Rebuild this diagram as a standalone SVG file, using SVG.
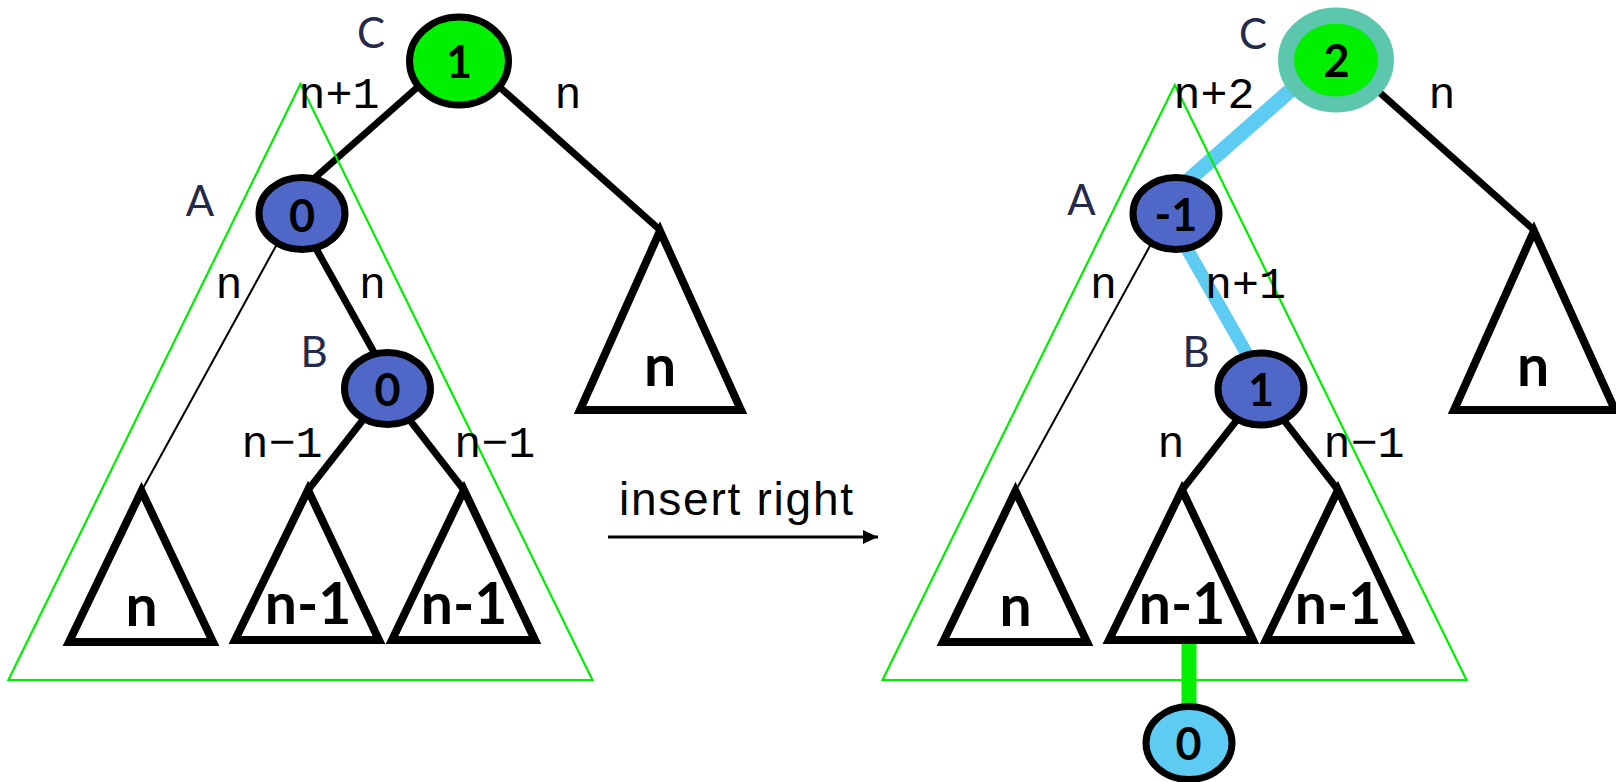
<svg xmlns="http://www.w3.org/2000/svg" width="1616" height="782" viewBox="0 0 1616 782">
<defs>
<style>
.edge{stroke:#000;stroke-width:7;fill:none}
.thin{stroke:#000;stroke-width:2;fill:none}
.hl{stroke:#5ECCF2;stroke-width:15;fill:none}
.hl2{stroke:#5ECCF2;stroke-width:13;fill:none}
.ins{stroke:#00F000;stroke-width:15;fill:none}
.zone{stroke:#00EE00;stroke-width:2.2;fill:none}
.tri{stroke:#000;stroke-width:8;fill:#fff;stroke-linejoin:miter;stroke-miterlimit:10}
.nodeB{fill:#4F67C7;stroke:#000;stroke-width:7}
.nodeG{fill:#00F000;stroke:#000;stroke-width:7}
.nodeG2{fill:#00F000;stroke:#5CC7AE;stroke-width:16}
.nodeN{fill:#5ECCF2;stroke:#000;stroke-width:7}
.val{font-family:Lato,"Liberation Sans",sans-serif;font-weight:700;font-size:45px;fill:#000;text-anchor:middle}
.big{font-family:Lato,"Liberation Sans",sans-serif;font-weight:700;font-size:57px;fill:#000;text-anchor:middle}
.name{font-family:Lato,"Liberation Sans",sans-serif;font-size:42px;fill:#252A4A;text-anchor:middle}
.h{font-family:"Liberation Mono","DejaVu Sans Mono",monospace;font-size:45px;fill:#000;text-anchor:middle}
.cap{font-family:"Liberation Sans",Arial,sans-serif;font-size:46px;fill:#000}
</style>
<marker id="ah" markerWidth="15" markerHeight="14" refX="15" refY="7" orient="auto" markerUnits="userSpaceOnUse">
<path d="M0,0 L15,7 L0,14 Z" fill="#000"/>
</marker>
</defs>
<rect width="1616" height="782" fill="#fff"/>

<g id="connectors">
<line class="edge" x1="437" y1="70" x2="301" y2="190"/>
<line class="edge" x1="480" y1="69.6" x2="660" y2="230"/>
<line class="edge" x1="306" y1="230.7" x2="380" y2="363"/>
<line class="thin" x1="288.7" y1="222.7" x2="141.5" y2="491"/>
<line class="edge" x1="377.8" y1="401" x2="308" y2="490"/>
<line class="edge" x1="395.6" y1="401.8" x2="464" y2="490"/>

<line class="hl" x1="1320.3" y1="64" x2="1163" y2="202.7"/>
<line class="edge" x1="1354" y1="69.6" x2="1534" y2="230"/>
<line class="hl2" x1="1171.5" y1="221.7" x2="1262.7" y2="381.7"/>
<line class="thin" x1="1162.7" y1="222.7" x2="1015.5" y2="491"/>
<line class="edge" x1="1251.8" y1="401" x2="1182" y2="490"/>
<line class="edge" x1="1269.6" y1="401.8" x2="1338" y2="490"/>
<line class="ins" x1="1189" y1="640" x2="1189" y2="712"/>

<line stroke="#000" stroke-width="3" x1="608" y1="537" x2="878" y2="537" marker-end="url(#ah)"/>
</g>

<g id="zone-left"><polygon class="zone" points="300.4,84 8.4,680 592.4,680"/></g>
<g id="zone-right"><polygon class="zone" points="1174.8,85 882.5,680 1466.5,680"/></g>

<g id="left-sub-a"><polygon class="tri" points="141.5,491 69,642 213,642"/><text class="big" x="141.5" y="626">n</text></g>
<g id="left-sub-b1"><polygon class="tri" points="308,490 235,640 379,640"/><text class="big" x="308" y="624">n-1</text></g>
<g id="left-sub-b2"><polygon class="tri" points="464,490 392,640 535,640"/><text class="big" x="464" y="624">n-1</text></g>
<g id="left-sub-c"><polygon class="tri" points="660,231 580,410 741,410"/><text class="big" x="660" y="386">n</text></g>

<g id="right-sub-a"><polygon class="tri" points="1015.5,491 943,642 1087,642"/><text class="big" x="1015.5" y="626">n</text></g>
<g id="right-sub-b1"><polygon class="tri" points="1182,490 1109,640 1253,640"/><text class="big" x="1182" y="624">n-1</text></g>
<g id="right-sub-b2"><polygon class="tri" points="1338,490 1266,640 1409,640"/><text class="big" x="1338" y="624">n-1</text></g>
<g id="right-sub-c"><polygon class="tri" points="1534,231 1454,410 1615,410"/><text class="big" x="1533" y="386">n</text></g>

<g id="left-C"><ellipse class="nodeG" cx="459" cy="61" rx="49.5" ry="44"/><text class="val" x="459" y="78">1</text><text class="name" x="371" y="48">C</text></g>
<g id="left-A"><ellipse class="nodeB" cx="302" cy="213.5" rx="43" ry="36"/><text class="val" x="302" y="232">0</text><text class="name" x="200" y="216">A</text></g>
<g id="left-B"><ellipse class="nodeB" cx="387.5" cy="388.5" rx="43" ry="36"/><text class="val" x="387.5" y="406">0</text><text class="name" x="314" y="367">B</text></g>

<g id="right-C"><ellipse class="nodeG2" cx="1336" cy="60" rx="50" ry="44.5"/><text class="val" x="1336.5" y="77">2</text><text class="name" x="1253" y="49">C</text></g>
<g id="right-A"><ellipse class="nodeB" cx="1176" cy="213.5" rx="43" ry="36"/><text class="val" x="1176" y="231">-1</text><text class="name" x="1081.5" y="215">A</text></g>
<g id="right-B"><ellipse class="nodeB" cx="1261" cy="389" rx="43" ry="36"/><text class="val" x="1261" y="406">1</text><text class="name" x="1196" y="367">B</text></g>
<g id="new-node"><ellipse class="nodeN" cx="1189" cy="743" rx="43" ry="36.5"/><text class="val" x="1188.5" y="760">0</text></g>

<g id="labels">
<text class="h" x="339" y="108">n+1</text>
<text class="h" x="568" y="108">n</text>
<text class="h" x="229" y="298">n</text>
<text class="h" x="372.5" y="298">n</text>
<text class="h" x="282" y="457">n−1</text>
<text class="h" x="494.7" y="457">n−1</text>
<text class="h" x="1214" y="108">n+2</text>
<text class="h" x="1442" y="108">n</text>
<text class="h" x="1103.5" y="298">n</text>
<text class="h" x="1245.5" y="298">n+1</text>
<text class="h" x="1171" y="457">n</text>
<text class="h" x="1364" y="457">n−1</text>
<text class="cap" x="619" y="515" textLength="234" lengthAdjust="spacing">insert right</text>
</g>
</svg>
